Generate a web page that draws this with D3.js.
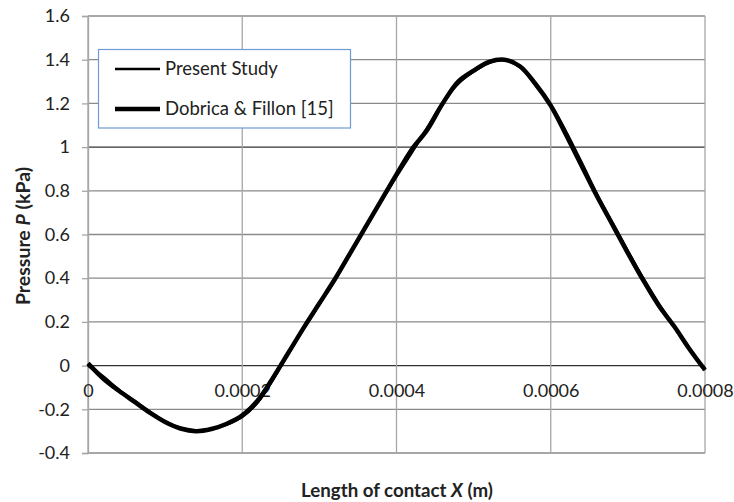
<!DOCTYPE html>
<html><head><meta charset="utf-8">
<script src="https://cdn.jsdelivr.net/npm/d3@7"></script>
<style>html,body{margin:0;padding:0;background:#fff;}</style>
</head><body><svg id="c" width="734" height="502"></svg>
<script>
const xValues = [0,0.00002,0.00004,0.00006,0.00008,0.0001,0.00012,0.00014,0.00016,0.00018,0.0002,0.00022,0.00024,0.00026,0.00028,0.0003,0.00032,0.00034,0.00036,0.00038,0.0004,0.00042,0.00044,0.00046,0.00048,0.0005,0.00052,0.00054,0.00056,0.00058,0.0006,0.00062,0.00064,0.00066,0.00068,0.0007,0.00072,0.00074,0.00076,0.00078,0.0008];
const presentStudy = [0,-0.05,-0.11,-0.16,-0.21,-0.255,-0.285,-0.297,-0.292,-0.27,-0.235,-0.17,-0.065,0.055,0.17,0.28,0.39,0.51,0.63,0.75,0.865,0.975,1.09,1.205,1.29,1.345,1.385,1.398,1.365,1.285,1.195,1.07,0.93,0.785,0.655,0.525,0.40,0.285,0.18,0.08,-0.02];
const dobricaFillon = [0.01,-0.06,-0.115,-0.165,-0.215,-0.258,-0.288,-0.30,-0.29,-0.266,-0.228,-0.16,-0.055,0.06,0.175,0.285,0.395,0.515,0.635,0.755,0.875,0.99,1.08,1.20,1.30,1.35,1.39,1.40,1.37,1.29,1.19,1.055,0.915,0.775,0.645,0.515,0.39,0.275,0.18,0.075,-0.02];
const xTicks = [0,0.0002,0.0004,0.0006,0.0008];
const xTickLabels = ["0","0.0002","0.0004","0.0006","0.0008"];
const yTicks = [-0.4,-0.2,0,0.2,0.4,0.6,0.8,1,1.2,1.4,1.6];
const yTickLabels = ["-0.4","-0.2","0","0.2","0.4","0.6","0.8","1","1.2","1.4","1.6"];
const seriesNames = ["Present Study","Dobrica & Fillon [15]"];

const svg = d3.select("#c");
const font = "Lato, 'Open Sans', sans-serif";
const x = d3.scaleLinear().domain([0,0.0008]).range([88,705]);
const y = d3.scaleLinear().domain([-0.4,1.6]).range([453,16]);

// horizontal gridlines
svg.append("g").selectAll("line").data(yTicks).join("line")
  .attr("x1", x(0)).attr("x2", x(0.0008))
  .attr("y1", d=>y(d)).attr("y2", d=>y(d))
  .attr("stroke", d => (d===0||d===1) ? "#333" : "#8a8a8a")
  .attr("stroke-width", 1.3);
// vertical gridlines
svg.append("g").selectAll("line").data(xTicks).join("line")
  .attr("x1", d=>x(d)).attr("x2", d=>x(d))
  .attr("y1", y(1.6)).attr("y2", y(-0.4))
  .attr("stroke", "#a6a6a6").attr("stroke-width", 1.3);

// y axis
const yAxis = d3.axisLeft(y).tickValues(yTicks).tickSize(6).tickPadding(12)
  .tickFormat((d,i)=>yTickLabels[i]);
const gy = svg.append("g").attr("transform", `translate(${x(0)},0)`).call(yAxis);
gy.select(".domain").attr("stroke","#a6a6a6").attr("stroke-width",1.3);
gy.selectAll(".tick line").attr("stroke","#a6a6a6").attr("stroke-width",1.3);
gy.selectAll("text").attr("font-family", font).attr("font-size", 18).attr("fill","#222");

// x axis labels placed below y=0 line
const xAxis = d3.axisBottom(x).tickValues(xTicks).tickSize(0).tickPadding(19)
  .tickFormat((d,i)=>xTickLabels[i]);
const gx = svg.append("g").attr("transform", `translate(0,${y(0)})`).call(xAxis);
gx.select(".domain").remove();
gx.selectAll("text").attr("font-family", font).attr("font-size", 18).attr("fill","#222");

// lines
const line = d3.line().x((d,i)=>x(xValues[i])).y(d=>y(d)).curve(d3.curveCatmullRom.alpha(0.5));
svg.append("path").datum(dobricaFillon).attr("d", line)
  .attr("fill","none").attr("stroke","#000").attr("stroke-width",4.5).attr("stroke-linejoin","round");
svg.append("path").datum(presentStudy).attr("d", line)
  .attr("fill","none").attr("stroke","#000").attr("stroke-width",2.5).attr("stroke-linejoin","round");

// legend
const lg = svg.append("g");
lg.append("rect").attr("x",98.5).attr("y",49.5).attr("width",252).attr("height",78.5)
  .attr("fill","#fff").attr("stroke","#6f9ad4").attr("stroke-width",1.2);
const ly = [69,109], lw = [2.7,4.7];
seriesNames.forEach((n,i)=>{
  lg.append("line").attr("x1",115).attr("x2",160).attr("y1",ly[i]).attr("y2",ly[i])
    .attr("stroke","#000").attr("stroke-width",lw[i]);
  lg.append("text").attr("x",165).attr("y",ly[i]).attr("dy","0.35em")
    .attr("font-family",font).attr("font-size",18.5).attr("fill","#222").text(n);
});

// axis titles
const yt = svg.append("text").attr("transform","translate(23,236) rotate(-90)")
  .attr("dy","0.35em")
  .attr("text-anchor","middle").attr("font-family",font).attr("font-size",19.5)
  .attr("font-weight","bold").attr("fill","#222");
yt.append("tspan").text("Pressure ");
yt.append("tspan").attr("font-style","italic").text("P");
yt.append("tspan").text(" (kPa)");
const xt = svg.append("text").attr("x",397).attr("y",497)
  .attr("text-anchor","middle").attr("font-family",font).attr("font-size",18.7)
  .attr("font-weight","bold").attr("fill","#222");
xt.append("tspan").text("Length of contact ");
xt.append("tspan").attr("font-style","italic").text("X");
xt.append("tspan").text(" (m)");
</script></body></html>
